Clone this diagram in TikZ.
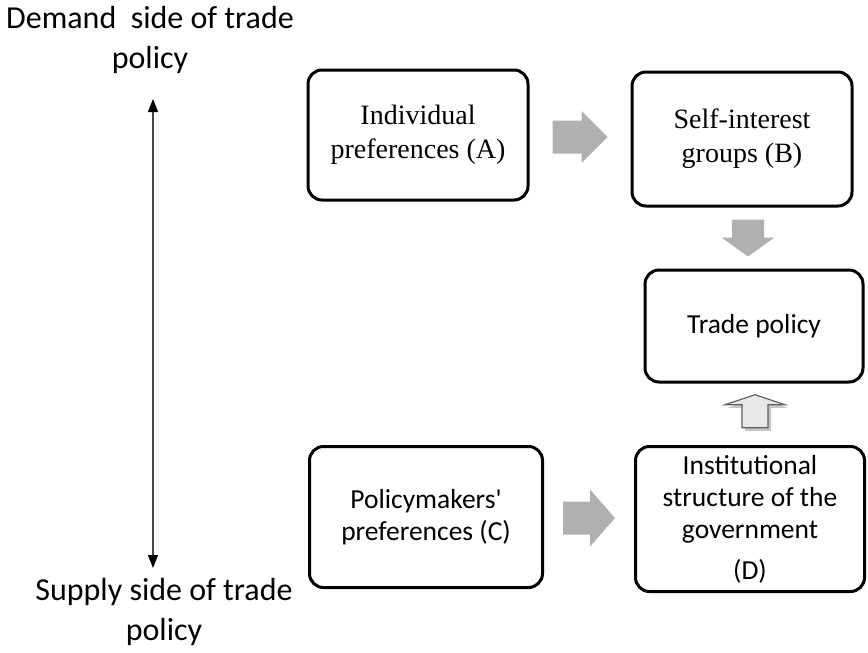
\documentclass[tikz,border=0pt]{standalone}
\usepackage{fontspec}
\setmainfont{Carlito}
\newfontfamily\serifface{Liberation Serif}
\usetikzlibrary{calc,arrows.meta,shadows}
\definecolor{blockgray}{RGB}{176,176,176}
\definecolor{edgegray}{RGB}{70,70,70}

% block arrow: centre, angle, length, shaft width, head width, head length, style
\newcommand{\blockarrow}[7]{%
	\begin{scope}[shift={(#1)},rotate=#2]
		\path[#7] (-#3/2,-#4/2) -- (#3/2-#6,-#4/2) -- (#3/2-#6,-#5/2) -- (#3/2,0)
			-- (#3/2-#6,#5/2) -- (#3/2-#6,#4/2) -- (-#3/2,#4/2) -- cycle;
	\end{scope}}

\begin{document}
\begin{tikzpicture}[x=1pt,y=-1pt,
	box/.style={shape=rectangle,draw=black,line width=3pt,rounded corners=14pt,align=center,inner sep=0pt,font=\fontsize{27.5}{32}\selectfont},
	serifbox/.style={box,font=\serifface\fontsize{28}{34}\selectfont},
	sidetext/.style={align=center,inner sep=0pt,font=\fontsize{32}{40.5}\selectfont},
	block/.style={fill=blockgray},
	hollowblock/.style={draw=gray!75!black,line width=1.2pt,fill=gray!18,
		drop shadow={shadow xshift=3pt,shadow yshift=-3pt,fill=gray!45,opacity=1}}]
	\useasboundingbox (0,0) rectangle (868,653);

	\node[sidetext] (dem) at (150, 40)  {Demand\ \ side of trade\\policy};
	\node[sidetext] (sup) at (164, 612) {Supply side of trade\\policy};

	\node[serifbox,minimum width=220pt,minimum height=130pt] (A) at (418, 135) {Individual\\preferences (A)};
	\node[serifbox,minimum width=220pt,minimum height=134pt] (B) at (742, 139) {Self-interest\\groups (B)};
	\node[box,minimum width=218pt,minimum height=112pt] (T) at (754, 326) {Trade policy};
	\node[box,minimum width=233pt,minimum height=141pt] (C) at (426, 517) {Policymakers\textquotesingle\\preferences (C)};
	\node[box,minimum width=229pt,minimum height=145pt] (D) at (750, 519) {Institutional\\structure of the\\government\\[9pt](D)};

	\coordinate (top) at (153, 99);
	\coordinate (bot) at (153, 568);
	\draw[edgegray,line width=1.6pt,{Triangle[width=10pt,length=13pt,color=black]}-{Triangle[width=10pt,length=13pt,color=black]}] (top) -- (bot);

	% block arrows between the boxes
	\blockarrow{$(A.east)!0.5!(B.west)$}{0}{55}{33}{52}{26}{block}
	\blockarrow{$(B.south)!0.5!(T.north)$}{-90}{37}{32}{53}{19}{block}
	\blockarrow{$(C.east)!0.5!(D.west)$}{0}{52}{33}{57}{25}{block}
	\blockarrow{$(D.north)!0.5!(T.south)+(3,-3)$}{90}{33}{26}{60}{10}{hollowblock}
\end{tikzpicture}
\end{document}
